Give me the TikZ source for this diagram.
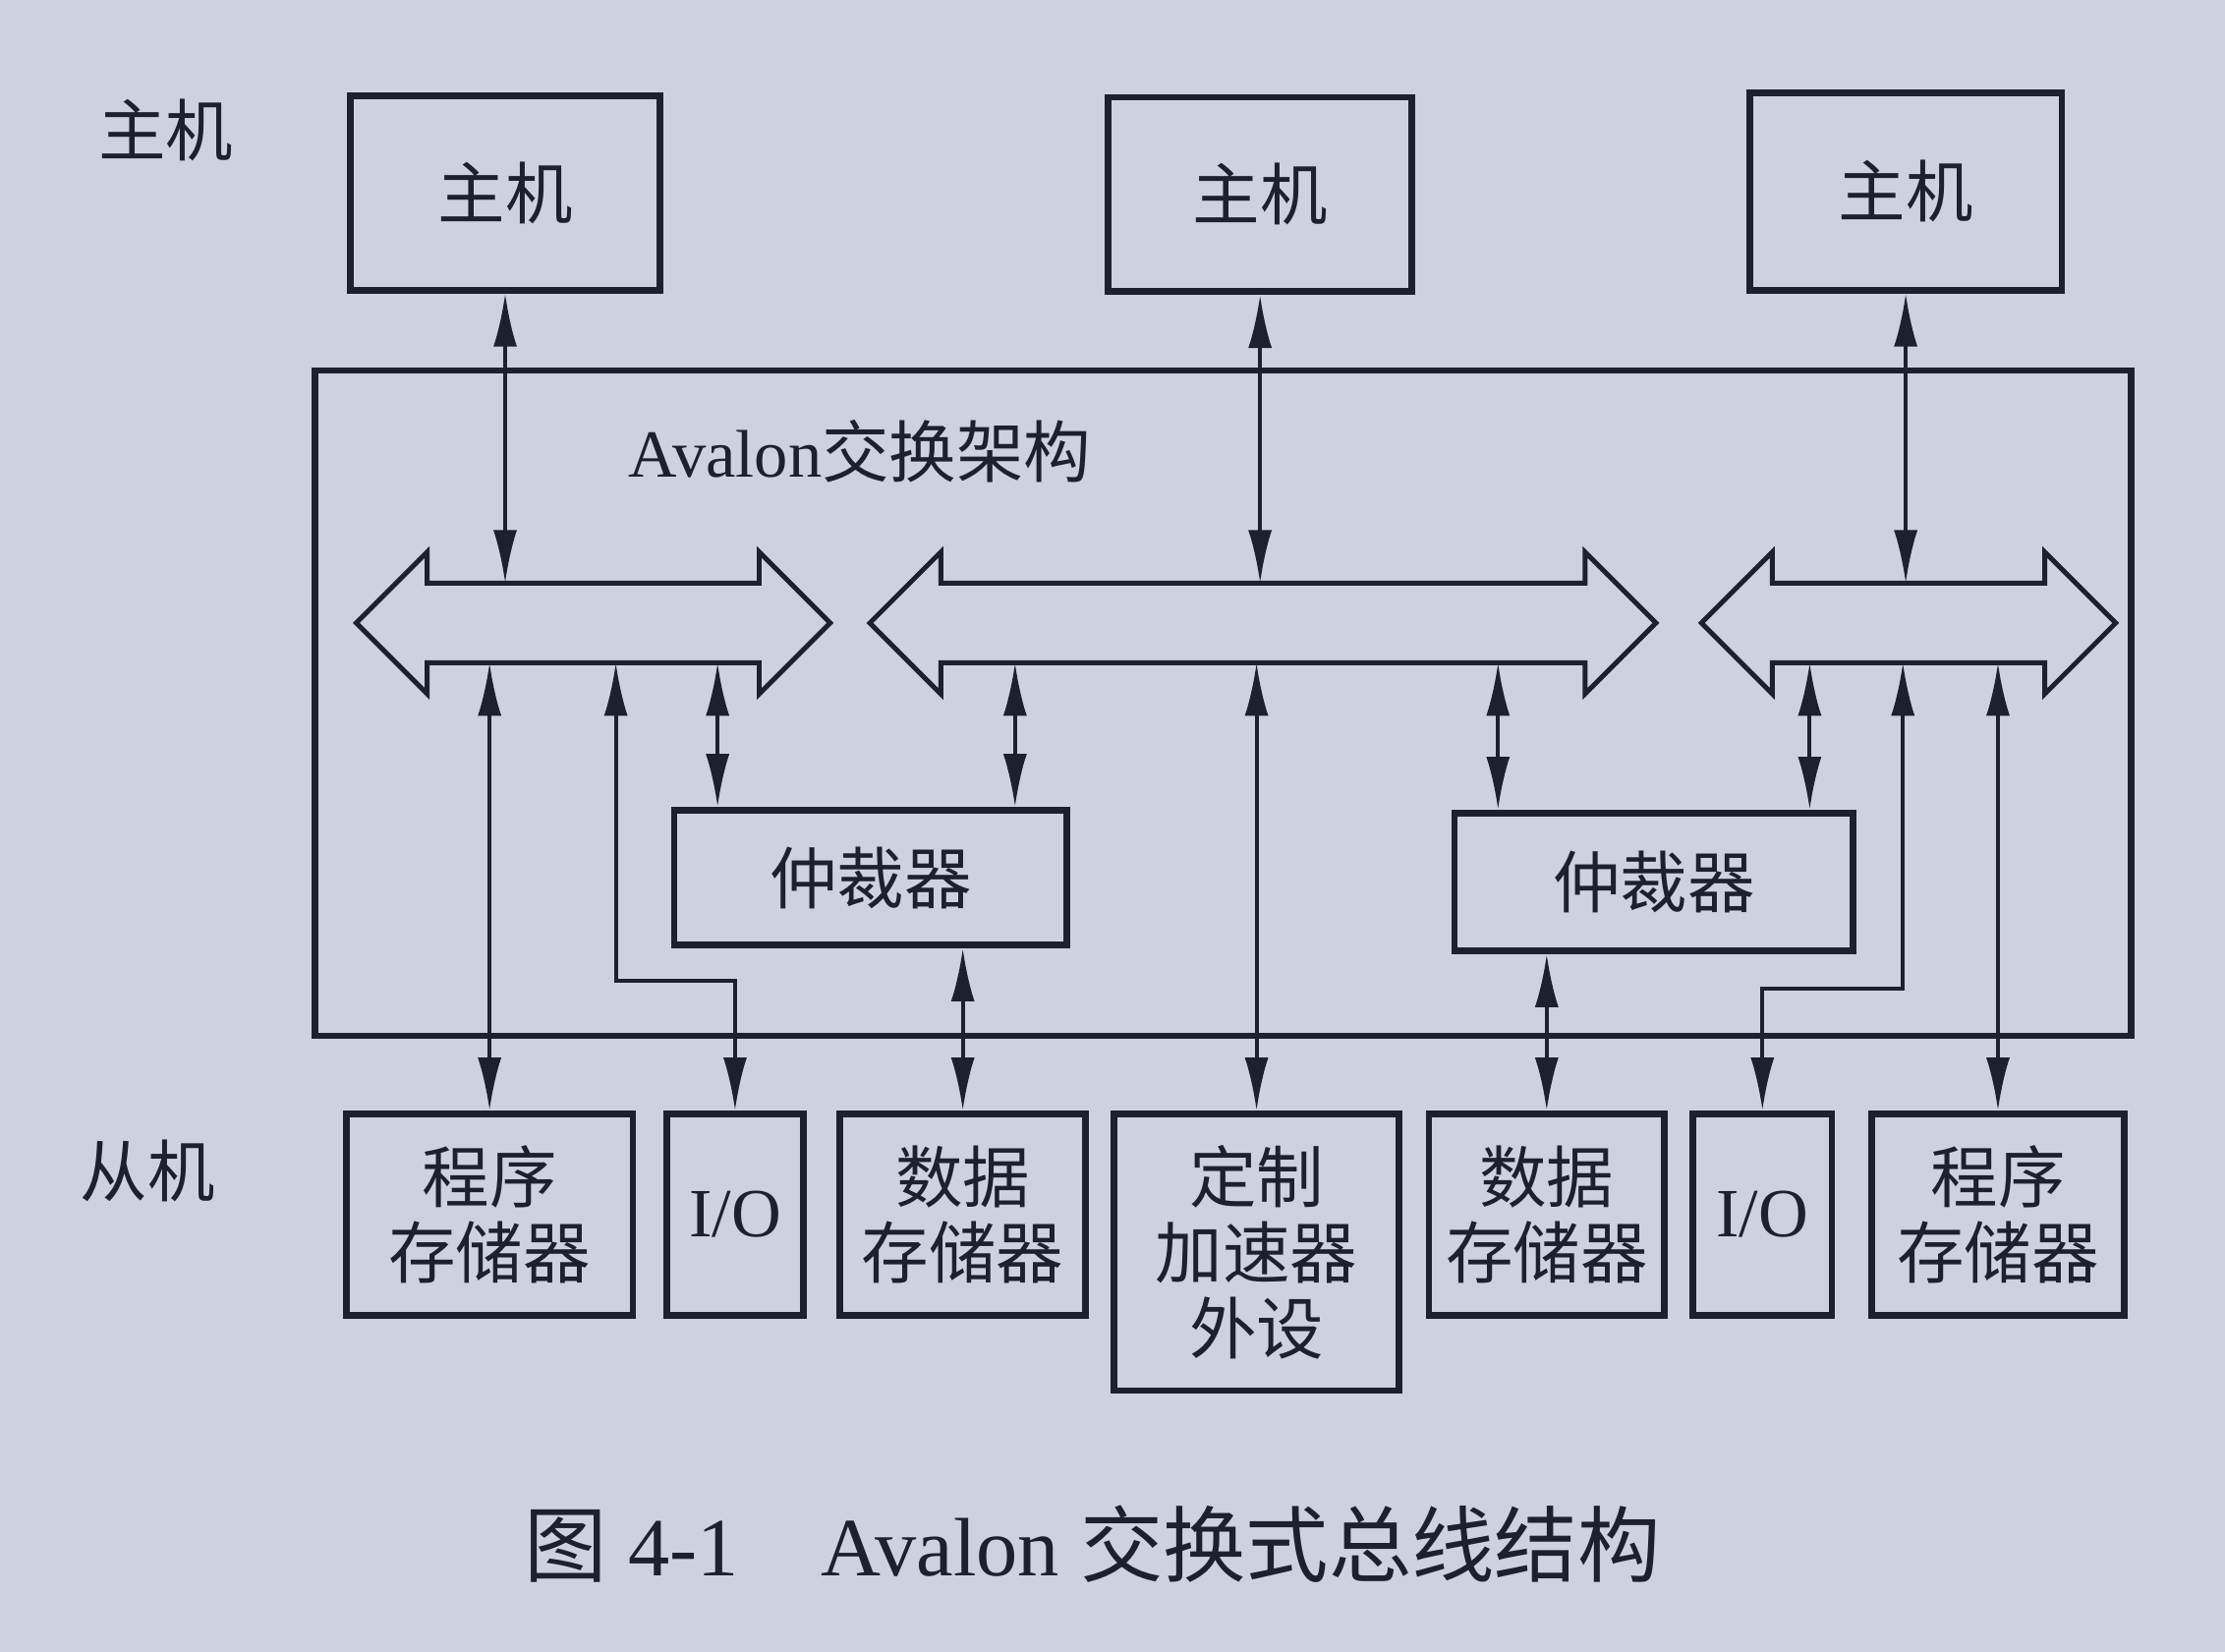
\documentclass[tikz,border=0pt]{standalone}
\usepackage{fontspec}
\setmainfont{Liberation Serif}
\newfontfamily\cjk{Noto Sans CJK SC}
\usepackage{tikz}
\usetikzlibrary{arrows.meta,calc}
\definecolor{paper}{RGB}{206,210,224}
\definecolor{ink}{RGB}{30,32,45}
\newcommand{\pxu}{0.14439mm}
\tikzset{
  box/.style={draw=ink, text=ink, line width=1.9pt, align=center, inner sep=0pt,
    font=\cjk\fontsize{19.5}{22}\selectfont},
  bus/.style={draw=ink, line width=1.4pt},
  link/.style={draw=ink, line width=1.1pt, <->, >={Latex[length=5.4mm,width=2.4mm]}},
  lbl/.style={text=ink, font=\cjk\fontsize{19.5}{22}\selectfont}
}

\begin{document}
\begin{tikzpicture}[x=\pxu, y=-\pxu]
  \fill[paper] (0,0) rectangle (1568,1164);

  % masters
  \node[lbl] (zhuji) at (117,92) {主机};
  \node[box, minimum width=218*\pxu, minimum height=137*\pxu] (m1) at (356,136) {主机};
  \node[box, minimum width=214*\pxu, minimum height=137*\pxu] (m2) at (888,137) {主机};
  \node[box, minimum width=220*\pxu, minimum height=139*\pxu] (m3) at (1343,135) {主机};

  % switch fabric
  \node[box, minimum width=1280*\pxu, minimum height=469*\pxu] (fab) at (862,495.5) {};
  \node[lbl, font=\fontsize{19.5}{22}\selectfont] (fabname) at (606,318) {Avalon{\cjk 交换架构}};

  \foreach \l/\r/\n in {251/585/1, 613/1167/2, 1199/1491/3}{
    \draw[bus] (\l,439) -- (\l+50,389) -- (\l+50,411) -- (\r-50,411) -- (\r-50,389)
      -- (\r,439) -- (\r-50,489) -- (\r-50,467) -- (\l+50,467) -- (\l+50,489) -- cycle;
    \coordinate (top\n) at (\l+50,411);
    \coordinate (bot\n) at (\l+50,467);
  }

  \node[box, minimum width=277*\pxu, minimum height=95*\pxu] (a1) at (613.5,618.5) {仲裁器};
  \node[box, minimum width=281*\pxu, minimum height=97*\pxu] (a2) at (1165.5,621.5) {仲裁器};

  % slaves
  \node[lbl] (congji) at (104,825) {从机};
  \node[box, minimum width=202*\pxu, minimum height=142*\pxu] (s1) at (345,856) {程序\\存储器};
  \node[box, minimum width=96*\pxu, minimum height=142*\pxu, font=\fontsize{20}{22}\selectfont] (s2) at (518,856) {I/O};
  \node[box, minimum width=173*\pxu, minimum height=142*\pxu] (s3) at (678.5,856) {数据\\存储器};
  \node[box, minimum width=201*\pxu, minimum height=195*\pxu] (s4) at (885.5,882.5) {定制\\加速器\\外设};
  \node[box, minimum width=166*\pxu, minimum height=142*\pxu] (s5) at (1090,856) {数据\\存储器};
  \node[box, minimum width=98*\pxu, minimum height=142*\pxu, font=\fontsize{20}{22}\selectfont] (s6) at (1242,856) {I/O};
  \node[box, minimum width=178*\pxu, minimum height=142*\pxu] (s7) at (1408,856) {程序\\存储器};

  % links
  \draw[link] (m1.south) -- (m1.south |- top1);
  \draw[link] (m2.south) -- (m2.south |- top2);
  \draw[link] (m3.south) -- (m3.south |- top3);

  \coordinate (a1p) at ($(a1.north west)+(33,0)$);
  \coordinate (a1q) at ($(a1.north east)+(-39,0)$);
  \coordinate (a2p) at ($(a2.north west)+(33,0)$);
  \coordinate (a2q) at ($(a2.north east)+(-33,0)$);
  \coordinate (k1) at (434,691);
  \coordinate (k2) at (1341,697);

  \draw[link] (s1.north |- bot1) -- (s1.north);
  \draw[link] (k1 |- bot1) -- (k1) -- (k1 -| s2.north) -- (s2.north);
  \draw[link] (a1p |- bot1) -- (a1p);
  \draw[link] (a1q |- bot2) -- (a1q);
  \draw[link] (a1.south -| s3.north) -- (s3.north);
  \draw[link] (s4.north |- bot2) -- (s4.north);
  \draw[link] (a2p |- bot2) -- (a2p);
  \draw[link] (a2q |- bot3) -- (a2q);
  \draw[link] (a2.south -| s5.north) -- (s5.north);
  \draw[link] (k2 |- bot3) -- (k2) -- (k2 -| s6.north) -- (s6.north);
  \draw[link] (s7.north |- bot3) -- (s7.north);

  % caption
  \node[lbl, font=\fontsize{24}{27}\selectfont, anchor=west] (cap) at (361,1088)
    {{\cjk 图} 4-1\quad Avalon {\cjk 交换式总线结构}};
\end{tikzpicture}
\end{document}
